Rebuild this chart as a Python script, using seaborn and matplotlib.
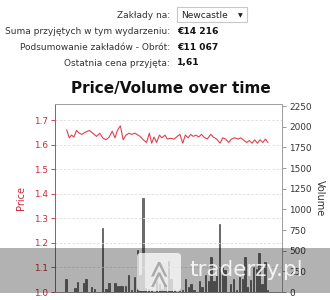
import matplotlib
matplotlib.use("Agg")
import matplotlib.pyplot as plt
from matplotlib.patches import Rectangle, FancyBboxPatch
import seaborn as sns
import pandas as pd

# --- data -------------------------------------------------------------
# trade times in hours since market open
price_hours = [2.9, 4.0, 5.0, 6.0, 7.1, 8.3, 9.4, 10.7, 12.6, 14.3, 15.7, 17.1,
               18.3, 19.7, 21.1, 22.4, 23.6, 24.6, 25.9, 27.1, 28.3, 29.6, 30.7,
               32.1, 34.3, 35.7, 37.1, 38.3, 39.3, 40.3, 41.4, 42.6, 43.7, 45.0,
               46.0, 47.4, 48.9, 50.3, 51.4, 52.6, 53.7, 54.9, 56.0, 57.1, 58.3,
               59.4, 60.6, 61.7, 63.1, 64.6, 65.7, 67.1, 68.6, 69.7, 70.9, 72.3,
               73.4, 74.9, 76.3, 77.4, 78.9, 80.0, 81.1, 82.3, 83.4, 84.6, 85.7,
               86.9, 88.0, 89.1]
prices = [1.662, 1.629, 1.640, 1.632, 1.659, 1.648, 1.643, 1.651, 1.659, 1.646,
          1.635, 1.648, 1.629, 1.621, 1.632, 1.656, 1.629, 1.659, 1.678, 1.621,
          1.640, 1.648, 1.643, 1.648, 1.635, 1.621, 1.610, 1.648, 1.607, 1.632,
          1.610, 1.640, 1.629, 1.640, 1.624, 1.627, 1.624, 1.635, 1.643, 1.607,
          1.640, 1.629, 1.643, 1.635, 1.640, 1.632, 1.643, 1.632, 1.624, 1.643,
          1.632, 1.624, 1.607, 1.629, 1.624, 1.610, 1.624, 1.629, 1.624, 1.629,
          1.618, 1.610, 1.618, 1.607, 1.621, 1.607, 1.621, 1.610, 1.624, 1.610]

volume_hours = [2.6, 6.4, 7.6, 10.0, 11.1, 13.6, 14.9, 18.3, 19.7, 21.0, 23.6,
                24.6, 25.7, 26.9, 28.0, 29.3, 30.7, 31.9, 33.1, 34.3, 35.6, 36.7,
                37.9, 39.3, 41.4, 42.6, 43.7, 45.0, 46.4, 47.6, 49.0, 51.1, 52.6,
                53.7, 55.0, 56.1, 57.4, 59.7, 60.9, 62.3, 63.6, 64.7, 66.0, 67.1,
                68.3, 69.6, 70.7, 73.1, 74.3, 75.7, 76.9, 78.1, 79.3, 80.4, 81.7,
                82.9, 84.1, 85.3, 86.6, 87.9, 88.9]
volumes = [153, 44, 121, 105, 153, 64, 40, 770, 40, 113, 105, 73, 73, 73, 73,
           202, 24, 185, 508, 202, 1137, 44, 32, 24, 137, 97, 32, 97, 379, 153,
           24, 16, 24, 153, 64, 97, 24, 137, 64, 202, 137, 427, 137, 282, 822,
           298, 266, 97, 153, 24, 185, 153, 427, 64, 145, 306, 282, 467, 97,
           363, 24]

price_ticks = [1.0, 1.1, 1.2, 1.3, 1.4, 1.5, 1.6, 1.7]
volume_ticks = [0, 250, 500, 750, 1000, 1250, 1500, 1750, 2000, 2250]
time_ticks = [3.5, 15.5, 27.5, 39.5, 51.5, 63.5, 75.5, 87.5]

market = "Newcastle"
summary_labels = ["Suma przyjętych w tym wydarzeniu:",
                  "Podsumowanie zakładów - Obrót:",
                  "Ostatnia cena przyjęta:"]
summary_values = ["€14 216", "€11 067", "1,61"]

price_df = pd.DataFrame({"hour": price_hours, "price": prices})
volume_df = pd.DataFrame({"hour": volume_hours, "volume": volumes})

# --- figure -----------------------------------------------------------
sns.set_theme(style="white")
plt.rcParams["font.family"] = ["DejaVu Sans"]

W, H = 330, 300
fig = plt.figure(figsize=(W / 100, H / 100), dpi=100)


def fx(px):
    return px / W


def fy(py):
    return 1 - py / H


red = "#c8283a"
line_red = "#e0404e"
txt = "#333333"

# header panel
fig.text(fx(170), fy(15), "Zakłady na:", ha="right", va="center",
         fontsize=6.5, color=txt)
fig.patches.append(Rectangle((fx(177), fy(22)), fx(70), 15 / H,
                             transform=fig.transFigure, facecolor="white",
                             edgecolor="#c8c8c8", linewidth=0.8))
fig.text(fx(181), fy(15), market, ha="left", va="center",
         fontsize=6.5, color="#222222")
fig.text(fx(240), fy(15.5), "▼", ha="center", va="center",
         fontsize=4.5, color="#222222")
for i, (lab, val) in enumerate(zip(summary_labels, summary_values)):
    y = 32 + i * 15.5
    fig.text(fx(170), fy(y), lab, ha="right", va="center",
             fontsize=6.5, color=txt)
    fig.text(fx(177), fy(y), val, ha="left", va="center",
             fontsize=6.6, color="#111111", fontweight="bold")

fig.text(fx(171), fy(88), "Price/Volume over time", ha="center",
         va="center", fontsize=11, fontweight="bold", color="#111111")

# chart axes
ax = fig.add_axes([fx(55), fy(292), fx(282 - 55), (292 - 104) / H])
ax2 = ax.twinx()
ax.set_zorder(ax2.get_zorder() + 1)
ax.patch.set_visible(False)

sns.barplot(data=volume_df, x="hour", y="volume", native_scale=True,
            width=0.6, color="#6a6a6a", edgecolor="#333333", linewidth=0.4,
            saturation=1, ax=ax2)
sns.lineplot(data=price_df, x="hour", y="price", color=line_red,
             linewidth=0.8, ax=ax)

ax.set_xlim(-2.1, 95.1)
ax.set_ylim(1.0, 1.767)
ax2.set_ylim(0, 2275)

ax.set_yticks(price_ticks)
ax.set_yticklabels([f"{v:.1f}" for v in price_ticks])
ax2.set_yticks(volume_ticks)
ax2.set_yticklabels([str(v) for v in volume_ticks])
ax.set_xticks(time_ticks)
ax.set_xticklabels([])
ax2.set_xticks([])

for v in price_ticks[1:]:
    ax.axhline(v, color="#dcdcdc", linestyle=(0, (3, 2)), linewidth=0.6,
               zorder=0)

ax.tick_params(axis="y", colors=red, labelsize=6.4, length=3, width=0.6,
               pad=2, direction="out", left=True)
ax.tick_params(axis="x", length=2.5, width=0.6, colors="#888888",
               bottom=True, direction="out")
ax2.tick_params(axis="y", colors="#888888", labelcolor="#333333",
                labelsize=6.4, length=3, width=0.6, pad=2,
                direction="out", right=True)

ax.set_xlabel("")
ax.set_ylabel("Price", color=red, fontsize=7, labelpad=6)
ax2.set_xlabel("")
ax2.set_ylabel("Volume", color="#333333", fontsize=7, rotation=270,
               labelpad=10)

for a in (ax, ax2):
    for s in a.spines.values():
        s.set_color("#a0a0a0")
        s.set_linewidth(0.7)
ax.spines["left"].set_color("#707070")

# site banner across the lower part of the chart
fig.patches.append(Rectangle((0, fy(293)), 1, (293 - 248) / H,
                             transform=fig.transFigure, facecolor="black",
                             alpha=0.3, edgecolor="none", zorder=10))
fig.patches.append(FancyBboxPatch((fx(137), fy(291)), fx(44), 38 / H,
                                  boxstyle="round,pad=0,rounding_size=0.012",
                                  transform=fig.transFigure,
                                  facecolor="white", alpha=0.75,
                                  edgecolor="none", zorder=11))
fig.text(fx(159), fy(272), "≫", ha="center", va="center", fontsize=20,
         color="#9a9a9a", rotation=90, alpha=0.8, zorder=12)
fig.text(fx(189), fy(270), "traderzy.pl", ha="left", va="center",
         fontsize=15.5, color="white", alpha=0.85, zorder=12)

fig.savefig("out.png", dpi=100)
